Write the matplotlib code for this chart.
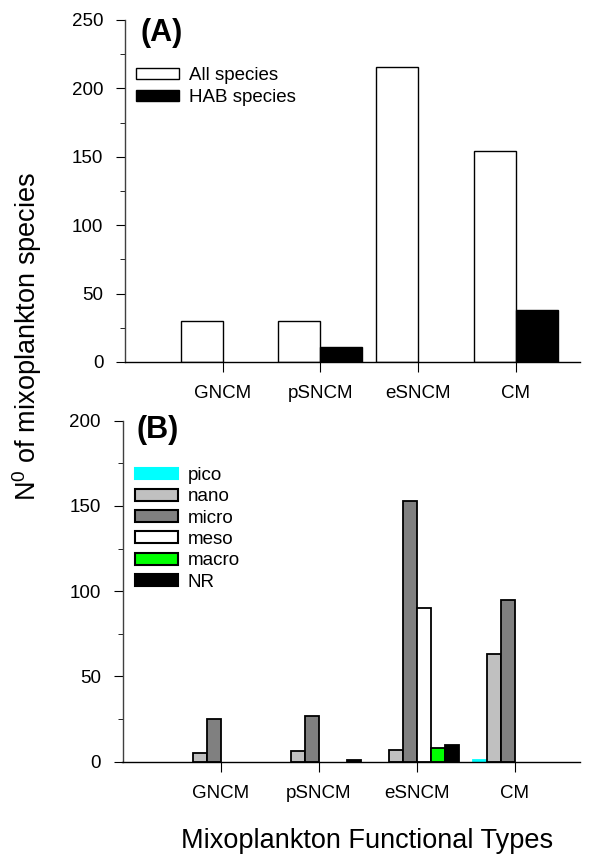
import numpy as np
import matplotlib
matplotlib.use('Agg')
import matplotlib.pyplot as plt
from matplotlib.patches import Patch

plt.rcParams['font.family'] = ['Liberation Sans', 'DejaVu Sans']
plt.rcParams['mathtext.fontset'] = 'custom'
plt.rcParams['mathtext.rm'] = 'Liberation Sans'

categories = ['GNCM', 'pSNCM', 'eSNCM', 'CM']

# panel A
all_species = [30, 30, 216, 154]
hab_species = [0, 11, 0, 38]

# panel B (size classes)
size_classes = ['pico', 'nano', 'micro', 'meso', 'macro', 'NR']
size_colors = ['#00ffff', '#c0c0c0', '#808080', '#ffffff', '#00ff00', '#000000']
size_values = {
    'pico':  [0, 0, 0, 1],
    'nano':  [5, 6, 7, 63],
    'micro': [25, 27, 153, 95],
    'meso':  [0, 0, 90, 0],
    'macro': [0, 0, 8, 0],
    'NR':    [0, 1, 10, 0],
}

fig = plt.figure(figsize=(6.03, 8.57), dpi=100)
axA = fig.add_axes([125 / 603, 1 - 362 / 857, 455 / 603, 342 / 857])
axB = fig.add_axes([122.5 / 603, 1 - 761.7 / 857, 457 / 603, 341 / 857])

x = np.arange(len(categories))
FS = 13.5

def style_axis(ax, ymax, step):
    for s in ['top', 'right']:
        ax.spines[s].set_visible(False)
    ax.spines['left'].set_color('#404040')
    ax.spines['left'].set_linewidth(1)
    ax.spines['bottom'].set_linewidth(1)
    ax.set_xlim(-1.0, 3.66)
    ax.set_ylim(0, ymax)
    ax.set_yticks(np.arange(0, ymax + 1, step))
    ax.set_yticks(np.arange(0, ymax + 1, step / 2), minor=True)
    ax.set_xticks(x)
    ax.set_xticklabels(categories)
    ax.tick_params(axis='y', which='major', length=6.5, direction='out', labelsize=FS, pad=9)
    ax.tick_params(axis='y', which='minor', length=3.6, direction='out')
    ax.tick_params(axis='x', length=7.2, direction='out', labelsize=FS, pad=9.5)

def lw(vals, w=1):
    return [w if v > 0 else 0 for v in vals]

# ---- panel A
wA = 0.43
axA.bar(x - wA / 2, all_species, wA, color='white', edgecolor='black', linewidth=lw(all_species))
axA.bar(x + wA / 2, hab_species, wA, color='black', edgecolor='black', linewidth=lw(hab_species))
style_axis(axA, 250, 50)
axA.text(0.035, 0.962, '(A)', transform=axA.transAxes, fontsize=22, fontweight='bold', va='center')
handlesA = [Patch(facecolor='white', edgecolor='black', linewidth=1, label='All species'),
            Patch(facecolor='black', edgecolor='black', linewidth=1, label='HAB species')]
axA.legend(handles=handlesA, loc='upper left', bbox_to_anchor=(0.024, 0.862), frameon=False, fontsize=FS,
           handlelength=2.3, handleheight=0.55, labelspacing=0.25, handletextpad=0.52,
           borderpad=0, borderaxespad=0)

# ---- panel B
wB = 0.143
offsets = np.arange(len(size_classes)) - 2.5
handlesB = []
for off, name, col in zip(offsets, size_classes, size_colors):
    ec = col if name == 'pico' else 'black'
    vals = size_values[name]
    axB.bar(x + off * wB, vals, wB, color=col, edgecolor=ec, linewidth=lw(vals, 1.3))
    handlesB.append(Patch(facecolor=col, edgecolor=ec, linewidth=1.5, label=name))
style_axis(axB, 200, 50)
axB.text(0.03, 0.973, '(B)', transform=axB.transAxes, fontsize=22, fontweight='bold', va='center')
axB.legend(handles=handlesB, loc='upper left', bbox_to_anchor=(0.027, 0.864), frameon=False, fontsize=FS,
           handlelength=2.3, handleheight=0.6, labelspacing=0.23, handletextpad=0.52,
           borderpad=0, borderaxespad=0)

fig.text(27 / 603, 1 - 336 / 857, r'N$^{\mathregular{0}}$ of mixoplankton species',
         rotation=90, ha='center', va='center', fontsize=19.5)
fig.text(367 / 603, 1 - 841 / 857, 'Mixoplankton Functional Types', ha='center', va='center', fontsize=19.5)

fig.savefig('out.png', dpi=100)
